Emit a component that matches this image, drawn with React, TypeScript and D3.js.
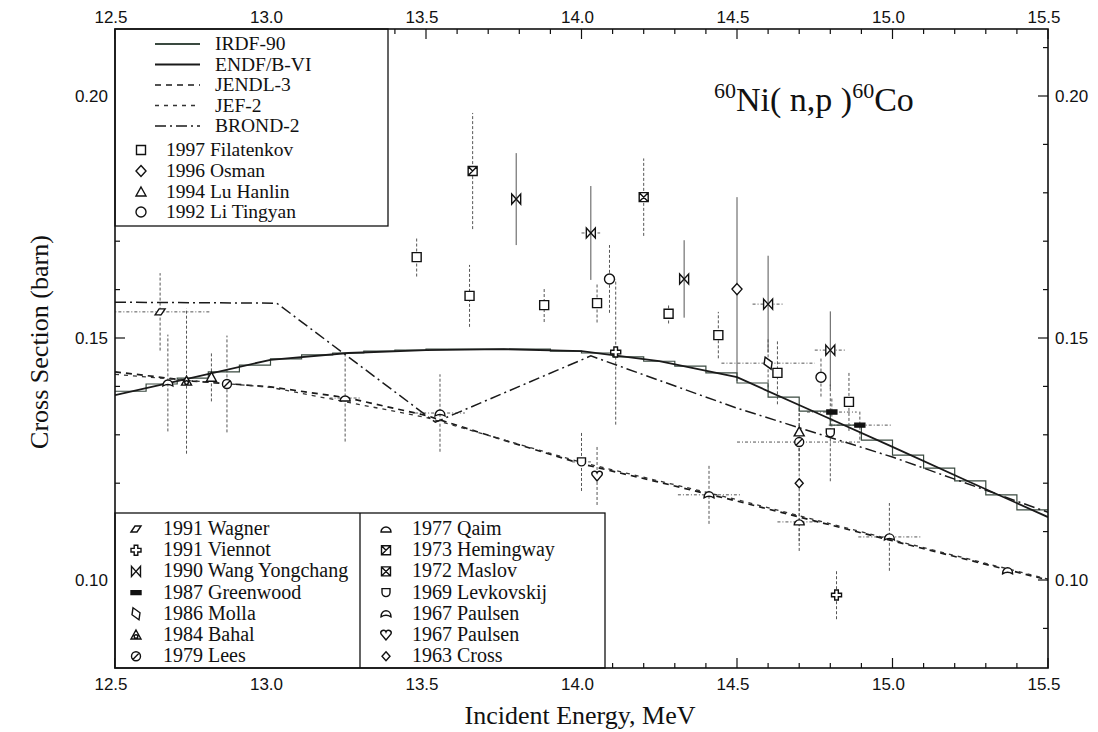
import React from 'react';
import * as d3 from 'd3';

const W = 1098;
const H = 732;
const frame = { left: 115, right: 1048, top: 29, bottom: 668 };

// axis ticks
const xMajor = [12.5, 13.0, 13.5, 14.0, 14.5, 15.0, 15.5];
const yMajor = [0.10, 0.15, 0.20];

// evaluated curves
const irdfE = [12.5, 12.6, 12.7, 12.8, 12.9, 13.0, 13.1, 13.2, 13.3, 13.4, 13.5, 13.6, 13.7, 13.8, 13.9,
  14.0, 14.1, 14.2, 14.3, 14.4, 14.5, 14.6, 14.7, 14.8, 14.9, 15.0, 15.1, 15.2, 15.3, 15.4, 15.5];
const irdfXS = [0.1390, 0.1405, 0.1417, 0.1430, 0.1444, 0.1457, 0.1465, 0.1469, 0.1473, 0.1475, 0.1477,
  0.1477, 0.1477, 0.1477, 0.1473, 0.1469, 0.1461, 0.1452, 0.1442, 0.1428, 0.1407, 0.1378, 0.1349, 0.1320,
  0.1289, 0.1258, 0.1231, 0.1205, 0.1176, 0.1145, 0.1145];
const endfE = [12.5, 12.7, 13.0, 13.25, 13.5, 13.75, 14.0, 14.25, 14.5, 14.75, 15.0, 15.25, 15.5];
const endfXS = [0.1382, 0.1411, 0.1455, 0.1469, 0.1475, 0.1477, 0.1473, 0.1452, 0.1419, 0.1347, 0.1275, 0.1202, 0.1130];
const jendlE = [12.5, 12.75, 13.0, 13.25, 13.5, 13.75, 14.0, 14.25, 14.5, 15.0, 15.5];
const jendlXS = [0.1430, 0.1411, 0.1399, 0.1376, 0.1340, 0.1289, 0.1240, 0.1202, 0.1163, 0.1081, 0.1000];
const jefE = [12.5, 13.0, 13.5, 14.0, 14.5, 15.0, 15.5];
const jefXS = [0.1425, 0.1398, 0.1336, 0.1243, 0.1166, 0.1083, 0.1002];
const brondE = [12.5, 13.02, 13.53, 14.03, 14.5, 15.0, 15.5];
const brondXS = [0.1574, 0.1572, 0.1326, 0.1463, 0.1355, 0.1254, 0.1140];

// measurements: [energy, xs, dxs, dE]
const filatenkov = [[13.47, 0.1667, 0.004, 0], [13.64, 0.1587, 0.0064, 0], [13.88, 0.1568, 0.0035, 0],
  [14.05, 0.1572, 0.004, 0], [14.28, 0.1550, 0.002, 0], [14.44, 0.1506, 0.0048, 0],
  [14.63, 0.1428, 0.0065, 0], [14.86, 0.1368, 0.006, 0]];
const osman = [[14.50, 0.1601, 0.019, 0]];
const luHanlin = [[12.81, 0.1419, 0.005, 0], [14.70, 0.1306, 0.005, 0]];
const liTingyan = [[14.09, 0.1622, 0.007, 0], [14.77, 0.1419, 0.004, 0]];
const wagner = [[12.645, 0.1554, 0.008, 0.16]];
const viennot = [[14.11, 0.1471, 0.015, 0], [14.82, 0.0969, 0.005, 0]];
const wang = [[13.79, 0.1787, 0.0095, 0], [14.03, 0.1717, 0.0097, 0.03], [14.33, 0.1622, 0.008, 0],
  [14.60, 0.1570, 0.010, 0.05], [14.80, 0.1475, 0.008, 0.05]];
const greenwood = [[14.805, 0.1347, 0.003, 0.08], [14.895, 0.1320, 0.003, 0.1]];
const molla = [[14.60, 0.1448, 0.005, 0.15]];
const bahal = [[12.73, 0.1411, 0.015, 0]];
const lees = [[12.86, 0.1405, 0.010, 0], [14.70, 0.1285, 0.006, 0.2]];
const qaim = [[13.24, 0.1376, 0.009, 0.05], [14.70, 0.1120, 0.006, 0.07]];
const hemingway = [[13.65, 0.1845, 0.012, 0]];
const maslov = [[14.20, 0.1791, 0.008, 0]];
const levkovskij = [[14.80, 0.1304, 0.010, 0], [14.00, 0.1244, 0.006, 0.03]];
const paulsenA = [[12.67, 0.1407, 0.010, 0], [13.545, 0.1345, 0.008, 0.08], [14.41, 0.1176, 0.006, 0.1],
  [14.99, 0.1089, 0.007, 0.1], [15.37, 0.1019, 0, 0]];
const paulsenB = [[14.05, 0.1215, 0.006, 0]];
const cross = [[14.70, 0.1200, 0.012, 0]];

const circ = (r: number) => `M${r},0A${r},${r} 0 1,1 ${-r},0A${r},${r} 0 1,1 ${r},0Z`;
const shapes: Record<string, { d: string; fill: string }> = {
  square: { d: 'M-4.5,-4.5H4.5V4.5H-4.5Z', fill: 'white' },
  diamond: { d: 'M0,-5.5L5,0L0,5.5L-5,0Z', fill: 'white' },
  triangle: { d: 'M0,-5L5,4H-5Z', fill: 'white' },
  circle: { d: circ(5), fill: 'white' },
  para: { d: 'M-5,3L-1,-3H5L1,3Z', fill: 'white' },
  plus: { d: 'M-1.8,-5H1.8V-1.8H5V1.8H1.8V5H-1.8V1.8H-5V-1.8H-1.8Z', fill: 'white' },
  bowtie: { d: 'M-4.5,-5L4.5,5V-5L-4.5,5Z', fill: 'white' },
  bar: { d: 'M-5,-2H5V2H-5Z', fill: '#111' },
  kite: { d: 'M-3,-6L4,-1L3,6L-4,1Z', fill: 'white' },
  trican: { d: 'M0,-5L5,4H-5Z M1.8,1.5A1.8,1.8 0 1,1 -1.8,1.5A1.8,1.8 0 1,1 1.8,1.5Z', fill: 'white' },
  slashc: { d: circ(4.5) + 'M-3.2,3.2L3.2,-3.2', fill: 'white' },
  halfd: { d: 'M-5,3A5,5 0 0,1 5,3Z', fill: 'white' },
  boxdiag: { d: 'M-4.5,-4.5H4.5V4.5H-4.5Z M-4.5,4.5L4.5,-4.5 M-4.5,-4.5L0,0', fill: 'white' },
  boxx: { d: 'M-4.5,-4.5H4.5V4.5H-4.5Z M-4.5,-4.5L4.5,4.5 M-4.5,4.5L4.5,-4.5', fill: 'white' },
  cup: { d: 'M-4,-4H4V0A4,4 0 0,1 -4,0Z', fill: 'white' },
  arch: { d: 'M-5,3C-5,-5 5,-5 5,3Q0,0 -5,3Z', fill: 'white' },
  heart: { d: 'M0,5L-5,-1A2.5,2.5 0 0,1 0,-3A2.5,2.5 0 0,1 5,-1Z', fill: 'white' },
  dia2: { d: 'M0,-4.5L4,0L0,4.5L-4,0Z', fill: 'white' },
};

type Series = { name: string; data: number[][]; shape: string; solidErr?: boolean };
const legendTop: Series[] = [
  { name: '1997 Filatenkov', data: filatenkov, shape: 'square' },
  { name: '1996 Osman', data: osman, shape: 'diamond', solidErr: true },
  { name: '1994 Lu Hanlin', data: luHanlin, shape: 'triangle' },
  { name: '1992 Li Tingyan', data: liTingyan, shape: 'circle' },
];
const legendLeft: Series[] = [
  { name: '1991 Wagner', data: wagner, shape: 'para' },
  { name: '1991 Viennot', data: viennot, shape: 'plus' },
  { name: '1990 Wang Yongchang', data: wang, shape: 'bowtie', solidErr: true },
  { name: '1987 Greenwood', data: greenwood, shape: 'bar' },
  { name: '1986 Molla', data: molla, shape: 'kite' },
  { name: '1984 Bahal', data: bahal, shape: 'trican' },
  { name: '1979 Lees', data: lees, shape: 'slashc' },
];
const legendRight: Series[] = [
  { name: '1977 Qaim', data: qaim, shape: 'halfd' },
  { name: '1973 Hemingway', data: hemingway, shape: 'boxdiag' },
  { name: '1972 Maslov', data: maslov, shape: 'boxx' },
  { name: '1969 Levkovskij', data: levkovskij, shape: 'cup' },
  { name: '1967 Paulsen', data: paulsenA, shape: 'arch' },
  { name: '1967 Paulsen', data: paulsenB, shape: 'heart' },
  { name: '1963 Cross', data: cross, shape: 'dia2' },
];
const allSeries = [...legendTop, ...legendLeft, ...legendRight];

const curves = [
  { name: 'IRDF-90', e: irdfE, xs: irdfXS, dash: '', width: 1.2, color: '#3a4a40', step: true },
  { name: 'ENDF/B-VI', e: endfE, xs: endfXS, dash: '', width: 1.8, color: '#1a1a1a', step: false },
  { name: 'JENDL-3', e: jendlE, xs: jendlXS, dash: '6,5', width: 1.7, color: '#1a1a1a', step: false },
  { name: 'JEF-2', e: jefE, xs: jefXS, dash: '4,5', width: 1.3, color: '#333', step: false },
  { name: 'BROND-2', e: brondE, xs: brondXS, dash: '11,4,2,4', width: 1.5, color: '#1a1a1a', step: false },
];

const serif = '"Liberation Serif", "Times New Roman", serif';
const sans = '"Liberation Sans", Arial, sans-serif';

export default function App() {
  const x = d3.scaleLinear().domain([12.5, 15.5]).range([frame.left, frame.right]);
  const y = d3.scaleLinear().domain([0.10, 0.20]).range([580, 96]);
  const xMinor = x.ticks(30);
  const yMinor = d3.scaleLinear().domain([y.invert(frame.bottom), y.invert(frame.top)]).ticks(14);

  const line = d3.line<number[]>().x((d) => x(d[0])).y((d) => y(d[1]));
  const stepLine = d3.line<number[]>().x((d) => x(d[0])).y((d) => y(d[1])).curve(d3.curveStepAfter);

  const marker = (shape: string, cx: number, cy: number, key: string) => (
    <path key={key} d={shapes[shape].d} transform={`translate(${cx},${cy})`}
      fill={shapes[shape].fill} stroke="#111" strokeWidth={1.4} />
  );

  const legRowsTop = [44, 64.5, 85, 105.5, 126, 150, 171, 192, 212];
  const legRows2 = d3.range(7).map((i) => 529 + i * 21.2);

  return (
    <svg width={W} height={H} style={{ position: 'absolute', left: 0, top: 0, background: 'white' }}>
      <defs>
        <clipPath id="plotclip">
          <rect x={frame.left} y={frame.top} width={frame.right - frame.left} height={frame.bottom - frame.top} />
        </clipPath>
      </defs>

      {/* ticks */}
      <g stroke="#111" strokeWidth={1.2}>
        {xMinor.map((t) => {
          const major = xMajor.some((m) => Math.abs(m - t) < 1e-6);
          const len = major ? 10 : 5;
          return (
            <g key={'xt' + t}>
              <line x1={x(t)} x2={x(t)} y1={frame.top} y2={frame.top + len} />
              <line x1={x(t)} x2={x(t)} y1={frame.bottom} y2={frame.bottom - len} />
            </g>
          );
        })}
        {yMinor.map((t) => {
          const major = yMajor.some((m) => Math.abs(m - t) < 1e-6);
          const len = major ? 10 : 5;
          return (
            <g key={'yt' + t}>
              <line x1={frame.left} x2={frame.left + len} y1={y(t)} y2={y(t)} />
              <line x1={frame.right} x2={frame.right - len} y1={y(t)} y2={y(t)} />
            </g>
          );
        })}
      </g>

      {/* tick labels */}
      <g fontFamily={sans} fontSize={17} fill="#111">
        {xMajor.map((t) => (
          <g key={'xl' + t}>
            <text x={x(t) - 4} y={23} textAnchor="middle">{t.toFixed(1)}</text>
            <text x={x(t) - 4} y={690} textAnchor="middle">{t.toFixed(1)}</text>
          </g>
        ))}
        {yMajor.map((t) => (
          <g key={'yl' + t}>
            <text x={108} y={y(t) + 6} textAnchor="end">{t.toFixed(2)}</text>
            <text x={1055} y={y(t) + 6} textAnchor="start">{t.toFixed(2)}</text>
          </g>
        ))}
      </g>

      <g clipPath="url(#plotclip)">
        {/* error bars */}
        {allSeries.map((s, si) => s.data.map((d, i) => (
          <g key={`e${si}-${i}`} stroke="#555" strokeWidth={1} fill="none">
            {d[2] > 0 && (
              <line x1={x(d[0])} x2={x(d[0])} y1={y(d[1] - d[2])} y2={y(d[1] + d[2])}
                strokeDasharray={s.solidErr ? '' : '3,2'} />
            )}
            {d[3] > 0 && (
              <line x1={x(d[0] - d[3])} x2={x(d[0] + d[3])} y1={y(d[1])} y2={y(d[1])} strokeDasharray="3,2,1,2" />
            )}
          </g>
        )))}

        {/* evaluated curves */}
        {curves.map((c) => {
          const pts = c.e.map((e, i) => [e, c.xs[i]]);
          return (
            <path key={c.name} d={(c.step ? stepLine : line)(pts) || ''} fill="none" stroke={c.color}
              strokeWidth={c.width} strokeDasharray={c.dash} />
          );
        })}

        {/* markers */}
        {allSeries.map((s, si) => s.data.map((d, i) => marker(s.shape, x(d[0]), y(d[1]), `m${si}-${i}`)))}
      </g>

      {/* title */}
      <text x={714} y={111} fontFamily={serif} fontSize={34} fill="#111">
        <tspan fontSize={22} dy={-13}>60</tspan>
        <tspan dy={13}>Ni( n,p )</tspan>
        <tspan fontSize={22} dy={-13}>60</tspan>
        <tspan dy={13}>Co</tspan>
      </text>

      {/* upper legend */}
      <g fontFamily={serif} fontSize={19.5} fill="#111">
        <rect x={frame.left} y={frame.top} width={388 - frame.left} height={226 - frame.top} fill="white" stroke="#111" strokeWidth={1.3} />
        {curves.map((c, i) => (
          <g key={'lc' + c.name}>
            <line x1={155} x2={200} y1={legRowsTop[i]} y2={legRowsTop[i]} stroke={c.color}
              strokeWidth={i === 0 ? 2.2 : c.width} strokeDasharray={c.dash} />
            <text x={215} y={legRowsTop[i] + 6}>{c.name}</text>
          </g>
        ))}
        {legendTop.map((s, i) => (
          <g key={'lt' + s.name}>
            {marker(s.shape, 141, legRowsTop[i + 5], 'ltm' + i)}
            <text x={166} y={legRowsTop[i + 5] + 6}>{s.name}</text>
          </g>
        ))}
      </g>

      {/* lower legend */}
      <g fontFamily={serif} fontSize={20} fill="#111">
        <rect x={frame.left} y={513} width={605 - frame.left} height={frame.bottom - 513} fill="white" stroke="#111" strokeWidth={1.3} />
        <line x1={360} x2={360} y1={513} y2={frame.bottom} stroke="#111" strokeWidth={1.3} />
        {legendLeft.map((s, i) => (
          <g key={'ll' + i}>
            {marker(s.shape, 136, legRows2[i], 'llm' + i)}
            <text x={163} y={legRows2[i] + 6}>{s.name}</text>
          </g>
        ))}
        {legendRight.map((s, i) => (
          <g key={'lr' + i}>
            {marker(s.shape, 386, legRows2[i], 'lrm' + i)}
            <text x={412} y={legRows2[i] + 6}>{s.name}</text>
          </g>
        ))}
      </g>

      {/* frame */}
      <rect x={frame.left} y={frame.top} width={frame.right - frame.left} height={frame.bottom - frame.top}
        fill="none" stroke="#111" strokeWidth={1.6} />

      {/* axis titles */}
      <text x={580} y={724} textAnchor="middle" fontFamily={serif} fontSize={26} fill="#111">Incident Energy, MeV</text>
      <text transform="translate(48,342) rotate(-90)" textAnchor="middle" fontFamily={serif} fontSize={26} fill="#111">
        Cross Section (barn)
      </text>
    </svg>
  );
}
